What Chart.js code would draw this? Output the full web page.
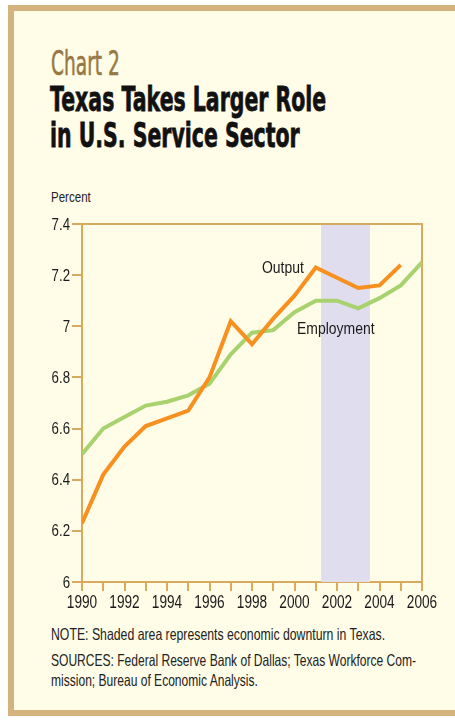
<!DOCTYPE html>
<html>
<head>
<meta charset="utf-8">
<script src="https://cdn.jsdelivr.net/npm/chart.js@4"></script>
<style>
  html, body { margin: 0; padding: 0; }
  body {
    width: 455px; height: 721px; position: relative; overflow: hidden;
    background: #fff;
    font-family: "Liberation Sans", Arial, sans-serif;
  }
  #panel {
    position: absolute; left: 8px; top: 5px; width: 447px; height: 711px;
    background: #fffce8;
    border-left: 6px solid #d4b37f; border-top: 6px solid #d4b37f; border-bottom: 6px solid #d4b37f;
    box-sizing: border-box;
  }
  .txt { position: absolute; white-space: nowrap; transform-origin: 0 0; }
  #kicker { left: 51px; top: 45.5px; font-family: "DejaVu Sans", sans-serif; font-size: 34px; line-height: 1; color: #987842; -webkit-text-stroke: 0.6px #987842; }
  #title { left: 50px; top: 82px; font-family: "DejaVu Sans", sans-serif; font-size: 33px; font-weight: bold; line-height: 36px; color: #111; -webkit-text-stroke: 0.8px #111; }
  #unit { left: 51px; top: 189px; font-size: 15px; line-height: 1; color: #222; }
  #note { left: 51px; top: 623.5px; font-size: 16.5px; line-height: 20px; color: #222; }
  #sources { left: 51px; top: 650px; font-size: 16.5px; line-height: 20px; color: #222; }
  #chartBox { position: absolute; left: 0; top: 170px; width: 455px; height: 450px; }
</style>
</head>
<body>
<div id="panel"></div>
<div class="txt" id="kicker" data-w="69">Chart 2</div>
<div class="txt" id="title" data-w="276">Texas Takes Larger Role<br>in U.S. Service Sector</div>
<div class="txt" id="unit" data-w="40">Percent</div>
<div class="txt" id="note" data-w="334">NOTE: Shaded area represents economic downturn in Texas.</div>
<div class="txt" id="sources" data-w="365">SOURCES: Federal Reserve Bank of Dallas; Texas Workforce Com-<br>mission; Bureau of Economic Analysis.</div>
<div id="chartBox"><canvas id="chart" width="455" height="450"></canvas></div>
<script>
const years = [1990, 1991, 1992, 1993, 1994, 1995, 1996, 1997, 1998, 1999, 2000, 2001, 2002, 2003, 2004, 2005, 2006];
const output = [6.23, 6.42, 6.53, 6.61, 6.64, 6.67, 6.80, 7.02, 6.93, 7.03, 7.12, 7.23, 7.19, 7.15, 7.16, 7.24, null];
const employment = [6.50, 6.60, 6.645, 6.69, 6.705, 6.73, 6.775, 6.89, 6.975, 6.985, 7.055, 7.10, 7.10, 7.07, 7.11, 7.16, 7.25];
const downturn = [2001.25, 2003.55];
const lineLabels = [
    { text: "Output", x: 1998.47, y: 7.207 },
    { text: "Employment", x: 2000.12, y: 6.970 }
];

const tan = "#d8aa5e";
const textColor = "#1a1a1a";

// fake a condensed font: squeeze each html text to its measured width
document.querySelectorAll(".txt").forEach(el => {
    const target = Number(el.dataset.w);
    el.style.transform = `scaleX(${target / el.offsetWidth})`;
});

function toPoints(vals) {
    return years.map((yr, i) => ({ x: yr, y: vals[i] })).filter(p => p.y !== null);
}

function squeezedText(ctx, text, x, y, align, size, squeeze) {
    ctx.save();
    ctx.translate(x, y);
    ctx.scale(squeeze, 1);
    ctx.font = size + 'px "Liberation Sans", Arial, sans-serif';
    ctx.fillStyle = textColor;
    ctx.textAlign = align;
    ctx.textBaseline = "alphabetic";
    ctx.fillText(text, 0, 0);
    ctx.restore();
}

// shaded downturn band, frame on top/right, tick labels and series labels
const extras = {
    id: "extras",
    beforeDatasetsDraw(chart) {
        const { ctx, chartArea, scales } = chart;
        const x0 = scales.x.getPixelForValue(downturn[0]);
        const x1 = scales.x.getPixelForValue(downturn[1]);
        ctx.save();
        ctx.fillStyle = "#e0ddee";
        ctx.fillRect(x0, chartArea.top, x1 - x0, chartArea.bottom - chartArea.top);
        ctx.strokeStyle = tan;
        ctx.lineWidth = 2;
        ctx.beginPath();
        ctx.moveTo(chartArea.left, chartArea.top);
        ctx.lineTo(chartArea.right, chartArea.top);
        ctx.lineTo(chartArea.right, chartArea.bottom);
        ctx.stroke();
        ctx.restore();
    },
    afterDraw(chart) {
        const { ctx, scales } = chart;
        const xs = scales.x, ys = scales.y;
        ys.ticks.forEach((t, i) => {
            squeezedText(ctx, t.label, ys.right - 12, ys.getPixelForTick(i) + 5.5, "right", 17, 0.78);
        });
        xs.ticks.forEach((t, i) => {
            if (t.label) squeezedText(ctx, t.label, xs.getPixelForTick(i), xs.top + 26, "center", 17.5, 0.78);
        });
        lineLabels.forEach(l => {
            squeezedText(ctx, l.text, xs.getPixelForValue(l.x), ys.getPixelForValue(l.y), "left", 17, 0.82);
        });
    }
};

new Chart(document.getElementById("chart"), {
    type: "line",
    data: {
        datasets: [
            { label: "Output", data: toPoints(output), borderColor: "#f7901e", borderWidth: 4, pointRadius: 0, tension: 0 },
            { label: "Employment", data: toPoints(employment), borderColor: "#a8d26d", borderWidth: 4, pointRadius: 0, tension: 0 }
        ]
    },
    options: {
        responsive: false,
        animation: false,
        layout: { padding: { top: 54, right: 33, bottom: 0, left: 0 } },
        plugins: { legend: { display: false }, tooltip: { enabled: false } },
        scales: {
            x: {
                type: "linear", min: 1990, max: 2006,
                afterFit(scale) { scale.height = 38; },
                border: { color: tan, width: 2 },
                grid: { drawOnChartArea: false, drawTicks: true, tickLength: 9, color: tan, lineWidth: 2 },
                ticks: {
                    stepSize: 1, autoSkip: false, maxRotation: 0,
                    color: "rgba(0,0,0,0)", font: { size: 16 },
                    callback: v => (v % 2 === 0 ? String(v) : "")
                }
            },
            y: {
                min: 6, max: 7.4,
                afterFit(scale) { scale.width = 82; },
                border: { color: tan, width: 2 },
                grid: { drawOnChartArea: false, drawTicks: true, tickLength: 10, color: tan, lineWidth: 2 },
                ticks: {
                    stepSize: 0.2,
                    color: "rgba(0,0,0,0)", font: { size: 16 },
                    callback: v => String(Number(v.toFixed(1)))
                }
            }
        }
    },
    plugins: [extras]
});
</script>
</body>
</html>
